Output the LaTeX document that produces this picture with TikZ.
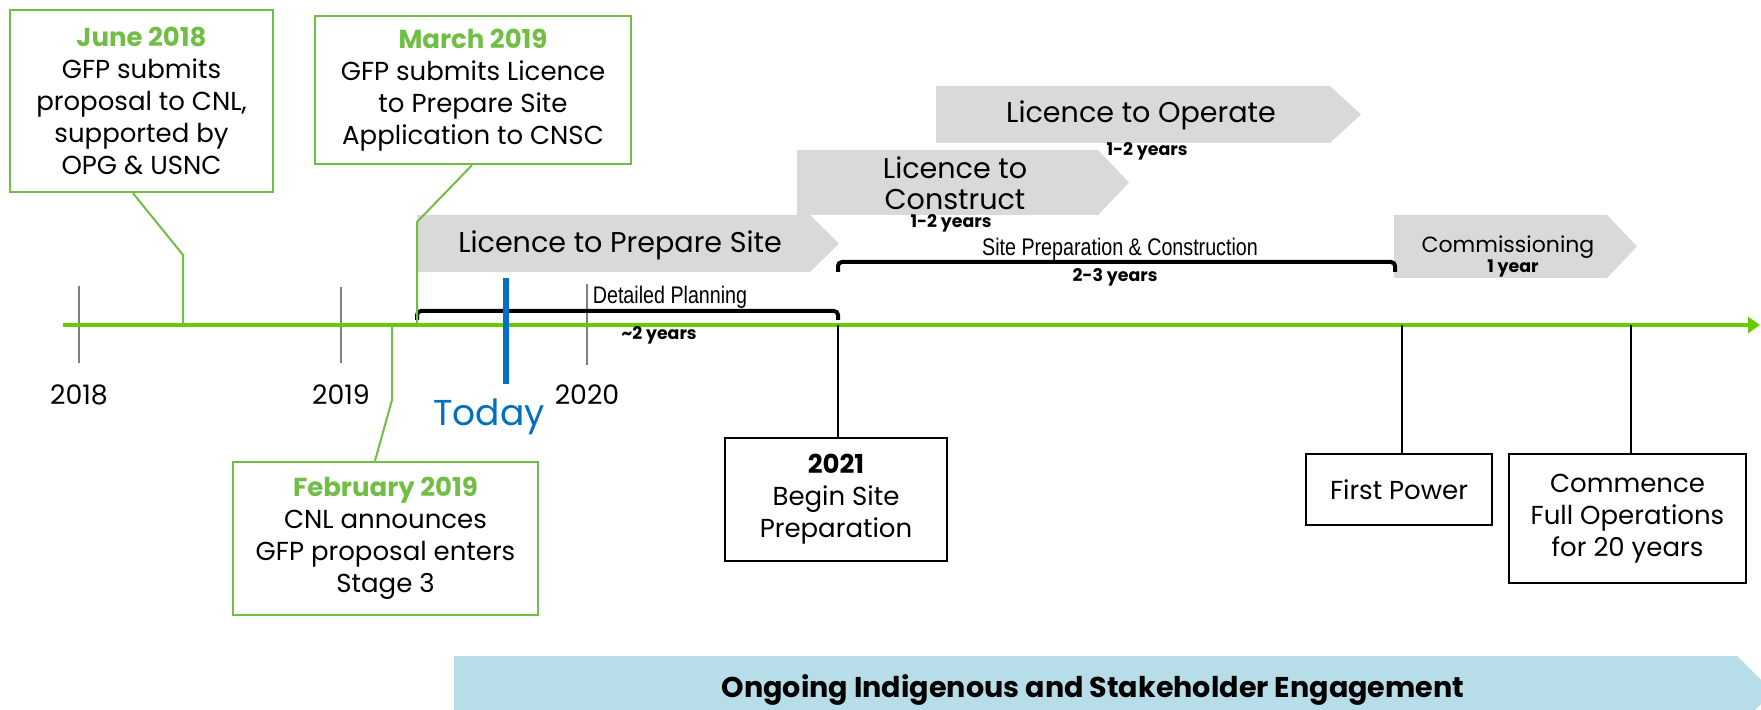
\documentclass[tikz,border=0pt]{standalone}
\usepackage{fontspec}
\setmainfont{Poppins}
\newfontfamily\narrowfont{Liberation Sans}[FakeStretch=0.82]
\usetikzlibrary{arrows.meta,calc}
\definecolor{boxgreen}{HTML}{70BF44}
\definecolor{axisgreen}{HTML}{66CC00}
\definecolor{licgrey}{HTML}{D9D9D9}
\definecolor{tickgrey}{HTML}{7F7F7F}
\definecolor{todayblue}{HTML}{0070C0}
\definecolor{engageblue}{HTML}{B7DEE8}

\begin{document}
\begin{tikzpicture}[x=0.5pt,y=-0.5pt,
        green box/.style={draw=boxgreen, line width=1.2pt, align=center, inner sep=0pt,
                          font=\fontsize{13}{16}\selectfont},
        black box/.style={draw=black, line width=1.2pt, align=center, inner sep=0pt,
                          font=\fontsize{13}{16}\selectfont},
        lead/.style={boxgreen, line width=1pt},
        stem/.style={black, line width=1.2pt},
        year tick/.style={tickgrey, line width=1pt},
        year label/.style={font=\fontsize{13.4}{15}\selectfont},
        licence/.style={fill=licgrey},
        licence text/.style={align=center, inner sep=0pt, font=\fontsize{14.3}{15.5}\selectfont},
        bracket/.style={line width=2pt, rounded corners=2pt},
        small bold/.style={inner sep=0pt, font=\fontsize{8.7}{10}\selectfont\bfseries},
        narrow/.style={inner sep=0pt, font=\narrowfont\fontsize{12}{13}\selectfont}]
        \useasboundingbox (0,0) rectangle (1761,710);

        % licence chevrons
        \fill[licence] (936,86) -- (1330,86) -- (1361,114.5) -- (1330,143) -- (936,143) -- cycle;
        \fill[licence] (797,150) -- (1098,150) -- (1129,182.5) -- (1098,215) -- (797,215) -- cycle;
        \fill[licence] (417,215) -- (810,215) -- (839,243.5) -- (810,272) -- (417,272) -- cycle;
        \fill[licence] (1394,215) -- (1607,215) -- (1637,246.5) -- (1607,278) -- (1394,278) -- cycle;
        \node[licence text] (operate)   at (1141,115) {Licence to Operate};
        \node[licence text] (construct) at (955,183)  {Licence to\\Construct};
        \node[licence text] (prepare)   at (620,245)  {Licence to Prepare Site};
        \node[licence text, font=\fontsize{11}{12}\selectfont] (commission) at (1508,247) {Commissioning};
        \node[small bold] (operate yrs)    at (1147,151) {1-2 years};
        \node[small bold] (construct yrs)  at (951,223)  {1-2 years};
        \node[small bold] (commission yrs) at (1513,268) {1 year};

        % years on the axis
        \draw[year tick] (79,286)  -- (79,363);
        \draw[year tick] (341,287) -- (341,363);
        \draw[year tick] (587,284) -- (587,365);
        \node[year label] (y2018) at (79,395)  {2018};
        \node[year label] (y2019) at (341,395) {2019};
        \node[year label] (y2020) at (587,395) {2020};

        \coordinate (axis start) at (63,325);
        \coordinate (axis end)   at (1760,325);
        \draw[axisgreen, line width=2pt, -{Triangle[length=6pt,width=8pt]}] (axis start) -- (axis end);

        % work phases
        \draw[bracket] (417,320) -- (417,311) -- (838,311) -- (838,320);
        \node[narrow] (planning) at (670,297) {Detailed Planning};
        \node[small bold] (planning yrs) at (659,335) {\textasciitilde2 years};
        \draw[bracket] (838,272) -- (838,262) -- (1395,262) -- (1395,272);
        \node[narrow] (siteprep) at (1120,249) {Site Preparation \& Construction};
        \node[small bold] (siteprep yrs) at (1115,277) {2-3 years};

        \draw[todayblue, line width=3pt] (506,278) -- (506,384);
        \node[todayblue, font=\fontsize{18}{20}\selectfont] (today) at (489,417) {Today};

        % milestones
        \node[green box, minimum width=131.5pt, minimum height=91pt] (jun18) at (141.5,101)
          {\textcolor{boxgreen}{\bfseries June 2018}\\GFP submits\\proposal to CNL,\\supported by\\OPG \& USNC};
        \node[green box, minimum width=158pt, minimum height=74pt] (mar19) at (473,90)
          {\textcolor{boxgreen}{\bfseries March 2019}\\GFP submits Licence\\to Prepare Site\\Application to CNSC};
        \node[green box, minimum width=152.5pt, minimum height=76.5pt] (feb19) at (385.5,538.5)
          {\textcolor{boxgreen}{\bfseries February 2019}\\CNL announces\\GFP proposal enters\\Stage 3};
        \node[black box, minimum width=111pt, minimum height=61.5pt] (site21) at (836,499.5)
          {{\bfseries 2021}\\Begin Site\\Preparation};
        \node[black box, minimum width=93pt, minimum height=35.5pt] (power) at (1399,489.5)
          {First Power};
        \node[black box, minimum width=118.5pt, minimum height=64.5pt] (fullops) at (1627.5,518.5)
          {Commence\\Full Operations\\for 20 years};

        \coordinate (on jun18) at (183,325);
        \coordinate (on mar19) at (417,325);
        \coordinate (on feb19) at (392,325);
        \draw[lead] ($(jun18.south)+(-8.5,0)$) -- (183,255) -- (on jun18);
        \draw[lead] ($(mar19.south)+(-1,0)$) -- (417,222) -- (on mar19);
        \draw[lead] (on feb19) -- (392,400) -- ($(feb19.north)+(-10.5,0)$);
        \draw[stem] (838,325)  -- (site21.north -| 838,0);
        \draw[stem] (1402,325) -- (power.north -| 1402,0);
        \draw[stem] (1631,325) -- (fullops.north -| 1631,0);

        % engagement band
        \fill[engageblue] (454,656) -- (1737,656) -- (1773,692) -- (1737,728) -- (454,728) -- cycle;
        \node[font=\fontsize{14.3}{16}\selectfont\bfseries] (engage) at (1093,690)
          {Ongoing Indigenous and Stakeholder Engagement};
      \end{tikzpicture}
\end{document}
